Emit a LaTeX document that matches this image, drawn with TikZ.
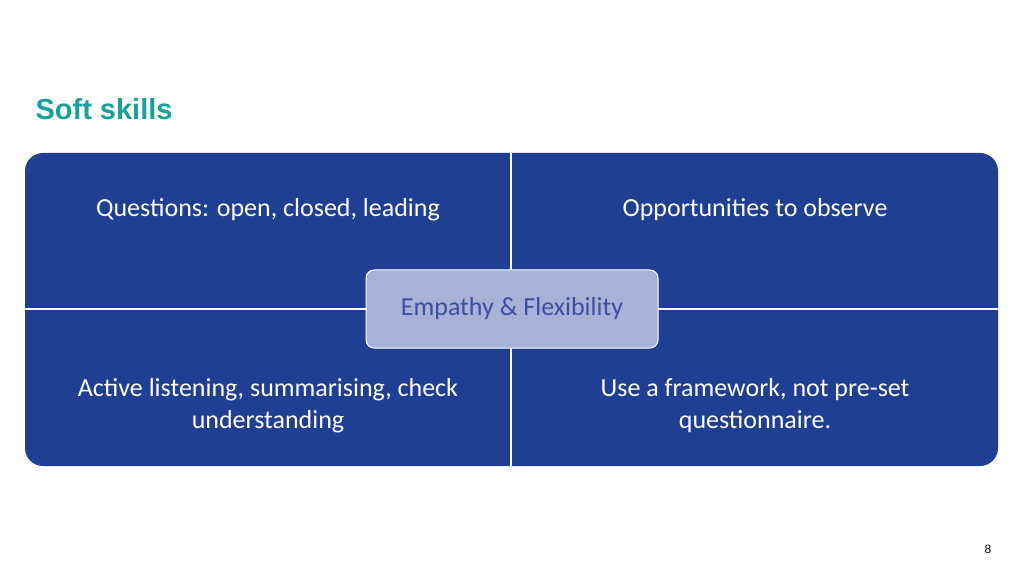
\documentclass[tikz,border=0pt]{standalone}
\usepackage{fontspec}
\setmainfont{Carlito}
\newfontfamily\titlefont{Liberation Sans}
\definecolor{quadblue}{HTML}{1F3F92}
\definecolor{teal}{HTML}{17A197}
\definecolor{hubfill}{HTML}{A8B2D8}
\definecolor{hubtext}{HTML}{3B4F9E}
\begin{document}
\begin{tikzpicture}[x=1pt,y=1pt,
    quad/.style = {text=white, align=center, font=\fontsize{26}{32}\selectfont},
    hub/.style = {draw=white, line width=1pt, fill=hubfill, rounded corners=8pt, minimum width=292pt, minimum height=78pt, text=hubtext, font=\fontsize{26}{32}\selectfont}]
        \useasboundingbox (0,0) rectangle (1024,576);
        \node[anchor=base west, text=teal, font=\titlefont\bfseries\fontsize{29}{34}\selectfont] (title) at (32,456) {Soft skills};
        \fill[quadblue, rounded corners=18pt] (25,110) rectangle (998,423);
        \coordinate (top) at (511,423);
        \coordinate (bottom) at (511,110);
        \coordinate (left) at (25,267);
        \coordinate (right) at (998,267);
        \draw[white, line width=1.2pt] (top) -- (bottom);
        \draw[white, line width=1.2pt] (left) -- (right);
        \node[quad] (q1) at (268,366) {Questions: open, closed, leading};
        \node[quad] (q2) at (755,366) {Opportunities to observe};
        \node[quad] (q3) at (268,170) {Active listening, summarising, check\\understanding};
        \node[quad] (q4) at (755,170) {Use a framework, not pre-set\\questionnaire.};
        \node[hub] (hub) at (512,267) {Empathy \& Flexibility};
        \node[font=\titlefont\fontsize{12}{14}\selectfont] (page) at (988,27) {8};
\end{tikzpicture}
\end{document}
